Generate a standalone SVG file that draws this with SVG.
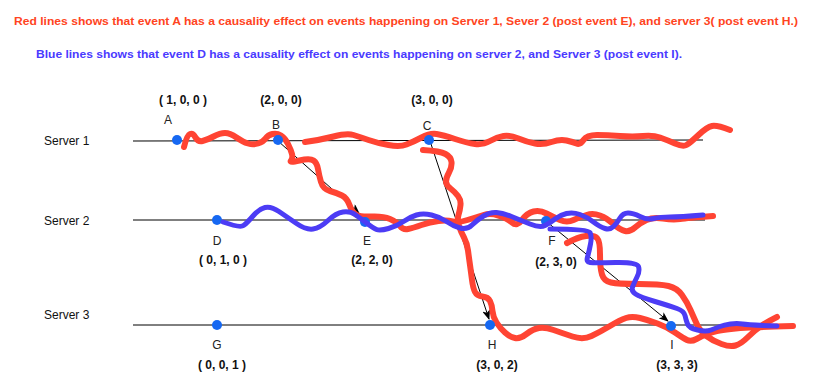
<svg xmlns="http://www.w3.org/2000/svg" width="820" height="390" viewBox="0 0 820 390">
<style>
.title{font-family:"Liberation Sans",Arial,sans-serif;font-size:11.5px;font-weight:bold}
.srv{font-family:"Liberation Sans",Arial,sans-serif;font-size:12px;fill:#111}
.lbl{font-family:"Liberation Sans",Arial,sans-serif;font-size:12px;fill:#222;text-anchor:middle}
.vc{font-family:"Liberation Sans",Arial,sans-serif;font-size:12px;font-weight:bold;fill:#111;text-anchor:middle}
.tl{stroke:#000;stroke-width:1;fill:none}
.dot{fill:#1668f2}
.red{fill:none;stroke:#ff4433;stroke-width:6;stroke-linecap:round;stroke-linejoin:round}
.blue{fill:none;stroke:#4c3cf5;stroke-width:5;stroke-linecap:round;stroke-linejoin:round}
.arr{stroke:#000;stroke-width:1;fill:none;marker-end:url(#ah)}
</style>
<defs>
<marker id="ah" viewBox="0 0 10 8" refX="9" refY="4" markerWidth="10" markerHeight="8" markerUnits="userSpaceOnUse" orient="auto">
<path d="M0,0 L10,4 L0,8 L2.5,4 z" fill="#000"/>
</marker>
</defs>
<rect width="820" height="390" fill="#fff"/>
<text class="title" x="14" y="25" fill="#ff4422" textLength="784" lengthAdjust="spacingAndGlyphs">Red lines shows that event A has a causality effect on events happening on Server 1, Sever 2 (post event E), and server 3( post event H.)</text>
<text class="title" x="36" y="58" fill="#4a3aff" textLength="646" lengthAdjust="spacingAndGlyphs">Blue lines shows that event D has a causality effect on events happening on server 2, and Server 3 (post event I).</text>

<g id="timelines">
<text class="srv" x="44" y="145">Server 1</text>
<text class="srv" x="44" y="225">Server 2</text>
<text class="srv" x="44" y="319">Server 3</text>
<line class="tl" x1="133" y1="141" x2="703" y2="140"/>
<line class="tl" x1="133" y1="220" x2="705" y2="220"/>
<line class="tl" x1="133" y1="325" x2="780" y2="325"/>
</g>

<g id="connectors">
<line class="arr" x1="278" y1="141" x2="359" y2="213"/>
<line class="arr" x1="430" y1="141" x2="489" y2="319"/>
<line class="arr" x1="547" y1="222" x2="668" y2="321"/>
</g>

<g id="red-lines">
<path class="red" d="M184,147 Q187,135 190,134 Q193,133 195.5,137.5 Q198,142 202.5,141 Q207,140 213.5,136.5 Q220,133 225,133 Q230,133 236.5,137.5 Q243,142 248,143.5 Q253,145 258,143.5 Q263,142 265.5,138.5 Q268,135 272.5,134 Q277,133 281,135.5 Q285,138 288,144 Q291,150 292,154 Q293,158 291,160.5 Q289,163 299.5,160.5 Q310,158 313.5,160.5 Q317,163 318,169 Q319,175 321,182 Q323,189 330,191 Q337,193 342,195.5 Q347,198 349.5,205 Q352,212 356,214.5 Q360,217 371.5,216.5 Q383,216 390,219 Q397,222 400,226 Q403,230 408,229 Q413,228 421.5,225 Q430,222 438.5,221 Q447,220 452.5,221.5 Q458,223 467.5,220 Q477,217 483.5,215 Q490,213 498.5,215.5 Q507,218 512,222.5 Q517,227 522,220 Q527,213 533.5,211.5 Q540,210 546.5,213.5 Q553,217 560,220 Q567,223 573.5,220 Q580,217 586.5,215 Q593,213 600,215.5 Q607,218 613.5,224 Q620,230 625,231 Q630,232 635,227.5 Q640,223 646.5,220 Q653,217 663,218.5 Q673,220 680,219 Q687,218 713,216"/>
<path class="red" d="M305,142 Q320,140 333.5,136.5 Q347,133 353.5,135 Q360,137 368.5,140 Q377,143 388.5,145 Q400,147 406.5,144.5 Q413,142 421.5,137.5 Q430,133 436.5,134 Q443,135 455,139 Q467,143 475,144 Q483,145 490,141 Q497,137 503.5,136 Q510,135 518.5,138.5 Q527,142 535,143.5 Q543,145 551.5,142 Q560,139 566.5,140.5 Q573,142 576.5,143.5 Q580,145 583.5,140 Q587,135 597,135 Q607,135 620,136 Q633,137 643,136 Q653,135 660,137.5 Q667,140 675,143.5 Q683,147 686.5,145 Q690,143 698.5,135 Q707,127 712,126 Q717,125 730,130"/>
<path class="red" d="M423,150 Q440,151 445.5,154 Q451,157 451.5,162 Q452,167 449,172.5 Q446,178 446,181.5 Q446,185 450.5,188.5 Q455,192 458,196 Q461,200 460.5,205 Q460,210 458.5,215 Q457,220 459,226 Q461,232 464,237.5 Q467,243 468,250.5 Q469,258 470,265 Q471,272 472,280 Q473,288 475,292 Q477,296 482.5,296.5 Q488,297 490,301 Q492,305 492.5,311 Q493,317 496.5,322.5 Q500,328 505,332.5 Q510,337 515,338 Q520,339 526.5,334 Q533,329 539,328 Q545,327 553.5,330 Q562,333 572.5,336.5 Q583,340 591.5,336 Q600,332 610,326 Q620,320 626,318 Q632,316 640,318 Q648,320 657.5,323.5 Q667,327 675,332.5 Q683,338 687,340 Q691,342 696.5,339 Q702,336 707,334 Q712,332 717,331 Q722,330 731,329 Q740,328 750,327.5 Q760,327 793,326"/>
<path class="red" d="M567,243 Q578,237 586,236 Q594,235 597,238 Q600,241 600,254.5 Q600,268 602,274.5 Q604,281 611,282.5 Q618,284 639,284 Q660,284 668.5,286 Q677,288 682,295 Q687,302 690.5,310 Q694,318 697,324.5 Q700,331 706.5,336 Q713,341 721.5,344 Q730,347 735.5,345.5 Q741,344 748,337 Q755,330 761,326 Q767,322 777,317"/>
</g>

<g id="node-A"><circle class="dot" cx="177" cy="140" r="5"/><text class="lbl" x="168" y="124">A</text><text class="vc" x="183" y="104">( 1, 0, 0 )</text></g>
<g id="node-B"><circle class="dot" cx="278" cy="140" r="5"/><text class="lbl" x="276" y="129">B</text><text class="vc" x="281" y="104">(2, 0, 0)</text></g>
<g id="node-C"><circle class="dot" cx="429" cy="140" r="5"/><text class="lbl" x="427" y="130">C</text><text class="vc" x="432" y="104">(3, 0, 0)</text></g>
<g id="node-D"><circle class="dot" cx="217" cy="220" r="5"/><text class="lbl" x="217" y="245">D</text><text class="vc" x="223" y="264">( 0, 1, 0 )</text></g>
<g id="node-E"><circle class="dot" cx="365" cy="222" r="5"/><text class="lbl" x="367" y="245">E</text><text class="vc" x="372" y="264">(2, 2, 0)</text></g>
<g id="node-F"><circle class="dot" cx="546" cy="221" r="5"/><text class="lbl" x="552" y="245">F</text><text class="vc" x="556" y="266">(2, 3, 0)</text></g>
<g id="node-G"><circle class="dot" cx="217" cy="325" r="5"/><text class="lbl" x="217" y="349">G</text><text class="vc" x="222" y="369">( 0, 0, 1 )</text></g>
<g id="node-H"><circle class="dot" cx="490" cy="325" r="5"/><text class="lbl" x="492" y="349">H</text><text class="vc" x="497" y="369">(3, 0, 2)</text></g>
<g id="node-I"><circle class="dot" cx="671" cy="326" r="5"/><text class="lbl" x="672" y="349">I</text><text class="vc" x="677" y="369">(3, 3, 3)</text></g>

<g id="blue-lines">
<path class="blue" d="M223,222 Q240,228 243.5,225.5 Q247,223 253,216 Q259,209 265,207.5 Q271,206 279,211.5 Q287,217 296.5,223.5 Q306,230 313,229 Q320,228 328,220.5 Q336,213 343,212 Q350,211 355,214.5 Q360,218 366.5,223 Q373,228 376.5,229.5 Q380,231 388.5,228.5 Q397,226 403.5,221.5 Q410,217 416.5,215 Q423,213 431.5,215 Q440,217 446.5,221.5 Q453,226 460,228 Q467,230 472,225 Q477,220 483.5,216 Q490,212 496.5,212.5 Q503,213 511.5,216.5 Q520,220 530,224 Q540,228 545,225.5 Q550,223 555,219 Q560,215 566.5,213.5 Q573,212 580,214.5 Q587,217 593.5,222 Q600,227 605,228.5 Q610,230 613.5,226.5 Q617,223 620,218 Q623,213 628,213 Q633,213 640,216.5 Q647,220 653.5,218.5 Q660,217 670,217 Q680,217 703,215"/>
<path class="blue" d="M550,229 Q588,229 590,232.5 Q592,236 590.5,244 Q589,252 587.5,257 Q586,262 590,262.5 Q594,263 615.5,262.5 Q637,262 638.5,266.5 Q640,271 637,277 Q634,283 632.5,287 Q631,291 635.5,294 Q640,297 655,301.5 Q670,306 677,308.5 Q684,311 685,315.5 Q686,320 687.5,324 Q689,328 697.5,330 Q706,332 711,330 Q716,328 720,326.5 Q724,325 730.5,324 Q737,323 742.5,324 Q748,325 777,326"/>
</g>
</svg>
